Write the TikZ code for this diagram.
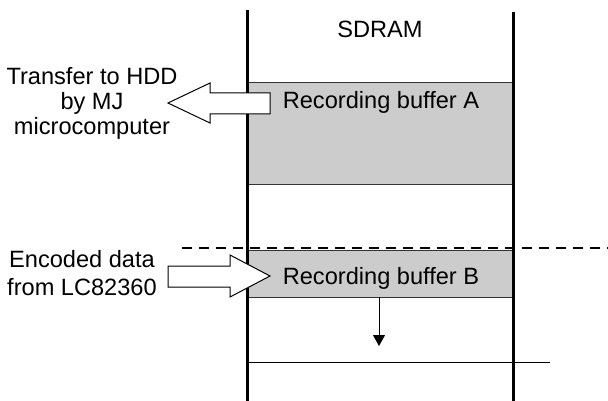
\documentclass[tikz,border=0pt]{standalone}
\usepackage{fontspec}
\setmainfont{Liberation Sans}
\usetikzlibrary{arrows.meta}
\begin{document}
\begin{tikzpicture}[x=1pt,y=-1pt,
  lbl/.style={inner sep=0pt,anchor=base,font=\fontsize{23.6}{25}\selectfont},
  buffer/.style={draw=black!80,line width=1pt,fill=gray!40},
  wall/.style={line width=3pt},
  hollow/.style={draw=black,line width=1pt,fill=white,line join=miter}]
\useasboundingbox (0,0) rectangle (608,401);

% memory buffers
\draw[buffer] (247,83) rectangle (513,185);
\draw[buffer] (247,250) rectangle (513,297);
\coordinate (bufBbot) at (379,297);
\coordinate (fill) at (379,346);

% boundary between buffers
\draw[dashed,line width=2pt,dash pattern=on 10pt off 7pt] (182,248) -- (608,248);

% fill level
\draw[line width=1pt] (247,362) -- (550,362);
\draw[line width=1pt,-{Triangle[length=11pt,width=12pt]}] (bufBbot) -- (fill);

% SDRAM walls
\draw[wall] (247,10) -- (247,401);
\draw[wall] (513,12) -- (513,401);

% transfer arrows
\draw[hollow] (270,93) -- (210,93) -- (210,83) -- (168,103) -- (210,123) -- (210,114) -- (270,114) -- cycle;
\draw[hollow] (168,266) -- (230,266) -- (230,255) -- (270,276) -- (230,297) -- (230,287) -- (168,287) -- cycle;

% labels
\node[lbl] (sdram) at (380,38) {SDRAM};
\node[lbl] (bufA) at (381,109) {Recording buffer A};
\node[lbl] (bufB) at (381,284) {Recording buffer B};
\node[lbl] (tr1) at (92,85) {Transfer to HDD};
\node[lbl] (tr2) at (92,110) {by MJ};
\node[lbl] (tr3) at (92,135) {microcomputer};
\node[lbl] (en1) at (82,267) {Encoded data};
\node[lbl] (en2) at (82,295) {from LC82360};
\end{tikzpicture}
\end{document}
